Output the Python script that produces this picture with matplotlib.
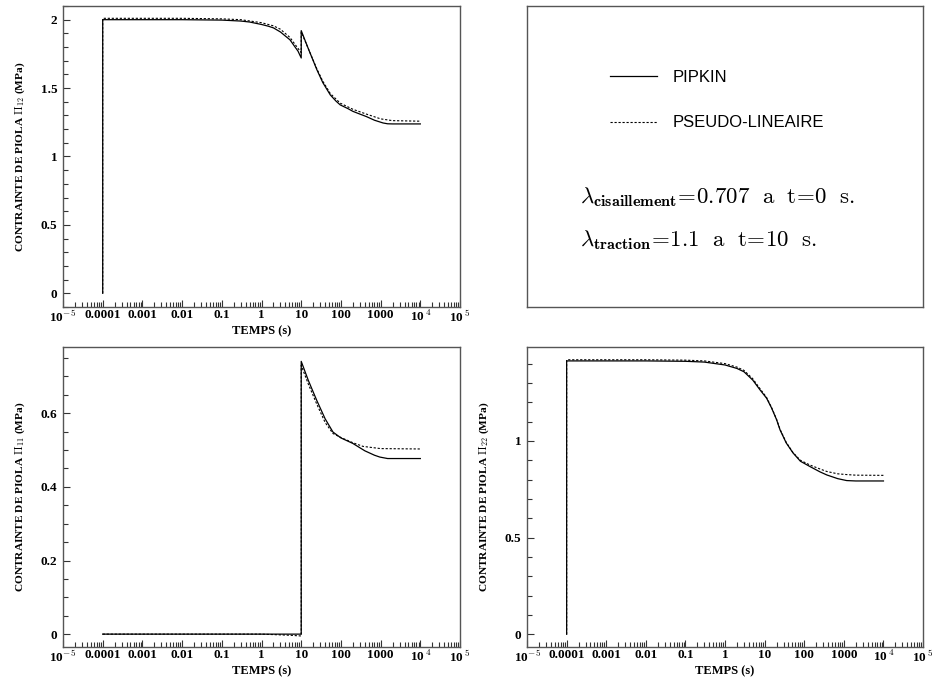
import matplotlib.pyplot as plt
from matplotlib.ticker import FixedLocator, MultipleLocator, LogLocator, NullFormatter, FuncFormatter

plt.rcParams['mathtext.fontset'] = 'cm'

# --- donnees ---
t12_pipkin = [1e-4, 1e-4, 1e-3, 0.01, 0.1, 0.3, 0.5, 1, 1.5, 2, 3, 4, 5.2, 7, 8.3, 10,
              10, 15, 24.8, 35, 54, 75, 96, 150, 200, 300, 436, 700, 1150, 1500, 2000, 1e4]
s12_pipkin = [0, 2.0, 2.0, 2.0, 1.997, 1.99, 1.983, 1.965, 1.952, 1.94, 1.91, 1.88, 1.853, 1.80, 1.77, 1.72,
              1.92, 1.79, 1.634, 1.54, 1.45, 1.405, 1.377, 1.35, 1.33, 1.31, 1.292, 1.265, 1.245, 1.239, 1.238, 1.238]
t12_pseudo = [1e-4, 1e-4, 1e-3, 0.01, 0.1, 0.3, 1, 2, 3, 5.2, 8.3, 10,
              10, 15, 24.8, 35, 54, 96, 200, 436, 1000, 2000, 1e4]
s12_pseudo = [0, 2.01, 2.01, 2.01, 2.006, 2.0, 1.978, 1.955, 1.93, 1.87, 1.79, 1.76,
              1.91, 1.79, 1.64, 1.55, 1.46, 1.39, 1.345, 1.31, 1.275, 1.262, 1.258]

t11_pipkin = [1e-4, 1, 10, 10, 15, 24.6, 40, 63, 100, 200, 400, 700, 955, 1500, 1e4]
s11_pipkin = [0, 0, 0, 0.741, 0.69, 0.635, 0.585, 0.549, 0.533, 0.518, 0.498, 0.486, 0.481, 0.477, 0.477]
t11_pseudo = [1e-4, 1, 5, 10, 10, 15, 24.6, 40, 63, 105, 200, 360, 1000, 1e4]
s11_pseudo = [0, 0, -0.003, -0.005, 0.73, 0.68, 0.625, 0.575, 0.545, 0.533, 0.52, 0.51, 0.504, 0.503]

t22_pipkin = [1e-4, 1e-4, 1e-3, 0.01, 0.1, 0.3, 1, 2, 3, 5, 7.65, 11.2, 15, 20, 24.5, 35, 52, 80,
              141, 250, 372, 700, 1180, 2000, 1e4]
s22_pipkin = [0, 1.414, 1.414, 1.414, 1.412, 1.408, 1.393, 1.375, 1.358, 1.315, 1.264, 1.221, 1.17, 1.11, 1.057,
              0.99, 0.938, 0.895, 0.867, 0.84, 0.824, 0.805, 0.795, 0.793, 0.793]
t22_pseudo = [1e-4, 1e-4, 1e-3, 0.01, 0.1, 0.3, 1, 2, 3, 5, 7.65, 11.2, 15, 20, 24.5, 35, 52, 80,
              141, 250, 372, 700, 1180, 2000, 1e4]
s22_pseudo = [0, 1.42, 1.42, 1.42, 1.418, 1.414, 1.40, 1.382, 1.365, 1.322, 1.27, 1.225, 1.172, 1.112, 1.06,
              0.993, 0.94, 0.90, 0.875, 0.855, 0.842, 0.83, 0.826, 0.823, 0.822]

xticks = [1e-5, 1e-4, 1e-3, 1e-2, 0.1, 1, 10, 100, 1000, 1e4, 1e5]
xlabels = [r'10$^{-5}$', '0.0001', '0.001', '0.01', '0.1', '1', '10', '100', '1000', r'10$^{\,4}$', r'10$^{\,5}$']

noms = ['PIPKIN', 'PSEUDO-LINEAIRE']

serif = 'Liberation Serif'
tick_font = dict(family=serif, weight='bold', size=9.5)
frame_col = '#555555'
ls_pseudo = (0, (2.0, 1.6))


def regler_axe(ax, ylim, major, minor, indice):
    ax.set_xscale('log')
    ax.set_xlim(1e-5, 1e5)
    ax.set_ylim(*ylim)
    ax.xaxis.set_major_locator(FixedLocator(xticks))
    ax.set_xticklabels(xlabels, **tick_font)
    ax.xaxis.set_minor_locator(LogLocator(base=10, subs=range(2, 10), numticks=20))
    ax.xaxis.set_minor_formatter(NullFormatter())
    ax.yaxis.set_major_locator(MultipleLocator(major))
    ax.yaxis.set_minor_locator(MultipleLocator(minor))
    ax.yaxis.set_major_formatter(FuncFormatter(lambda v, p: '%g' % round(v, 3)))
    for lab in ax.get_yticklabels():
        lab.set_fontfamily(serif)
        lab.set_fontweight('bold')
        lab.set_fontsize(9.5)
    ax.tick_params(which='both', direction='in', top=False, right=False, color='#333333', width=0.8)
    ax.tick_params(axis='x', which='major', length=5, pad=1.5)
    ax.tick_params(axis='y', which='major', length=5, pad=4)
    ax.tick_params(which='minor', length=3.5)
    for sp in ax.spines.values():
        sp.set_color(frame_col)
        sp.set_linewidth(1.0)
    ax.set_xlabel('TEMPS (s)', fontfamily=serif, fontweight='bold', fontsize=9, labelpad=0)
    ax.set_ylabel('CONTRAINTE DE PIOLA $\\mathbf{\\Pi_{%s}}$ (MPa)' % indice,
                  fontfamily=serif, fontweight='bold', fontsize=8.2, labelpad=10)


fig = plt.figure(figsize=(9.32, 6.82), dpi=100)
ax1 = fig.add_axes([0.0676, 0.5499, 0.426, 0.4413])
ax2 = fig.add_axes([0.5655, 0.5499, 0.4249, 0.4413])
ax3 = fig.add_axes([0.0676, 0.0513, 0.426, 0.4399])
ax4 = fig.add_axes([0.5655, 0.0513, 0.4249, 0.4399])

l1, = ax1.plot(t12_pipkin, s12_pipkin, color='black', lw=0.9)
l2, = ax1.plot(t12_pseudo, s12_pseudo, color='black', lw=0.8, linestyle=ls_pseudo)
regler_axe(ax1, (-0.1, 2.1), 0.5, 0.1, '12')

ax3.plot(t11_pipkin, s11_pipkin, color='black', lw=0.9)
ax3.plot(t11_pseudo, s11_pseudo, color='black', lw=0.8, linestyle=ls_pseudo)
regler_axe(ax3, (-0.035, 0.78), 0.2, 0.05, '11')

ax4.plot(t22_pipkin, s22_pipkin, color='black', lw=0.9)
ax4.plot(t22_pseudo, s22_pseudo, color='black', lw=0.8, linestyle=ls_pseudo)
regler_axe(ax4, (-0.066, 1.486), 0.5, 0.1, '22')

# cadre de legende
ax2.set_xticks([])
ax2.set_yticks([])
for sp in ax2.spines.values():
    sp.set_color(frame_col)
    sp.set_linewidth(1.0)

leg = ax2.legend([l1, l2], noms, loc='center left', bbox_to_anchor=(0.21, 0.6875),
                 frameon=False, borderaxespad=0, borderpad=0, handlelength=2.8,
                 handletextpad=0.96, labelspacing=1.85,
                 prop=dict(family='Liberation Sans', size=12))

txt_font = dict(fontsize=16.5)
ax2.text(0.134, 0.365, r'$\lambda_{\mathbf{cisaillement}}\!=\!0.707\ \ \mathrm{a}\ \ \mathrm{t}\!=\!0\ \ \mathrm{s.}$',
         transform=ax2.transAxes, va='center', ha='left', **txt_font)
ax2.text(0.134, 0.223, r'$\lambda_{\mathbf{traction}}\!=\!1.1\ \ \mathrm{a}\ \ \mathrm{t}\!=\!10\ \ \mathrm{s.}$',
         transform=ax2.transAxes, va='center', ha='left', **txt_font)

fig.savefig('out.png', dpi=100)
